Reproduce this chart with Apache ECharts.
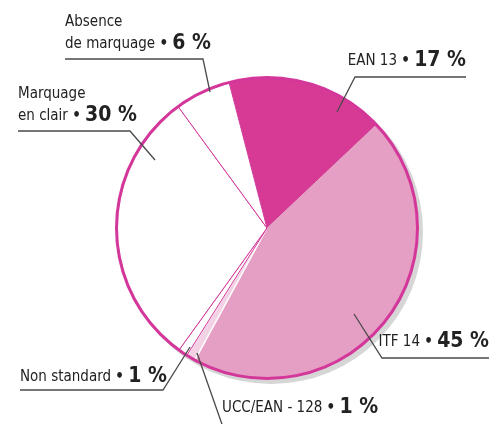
<!DOCTYPE html>
<html>
<head>
<meta charset="utf-8">
<script src="https://cdn.jsdelivr.net/npm/echarts@6/dist/echarts.min.js"></script>
<style>
  html, body { margin: 0; padding: 0; background: #fff; }
  #chart { width: 494px; height: 424px; }
</style>
</head>
<body>
<div id="chart"></div>
<script>
// slices, clockwise from the top-left edge of EAN 13
var categories = ['EAN 13', 'ITF 14', 'UCC/EAN - 128', 'Non standard', 'Marquage\nen clair', 'Absence\nde marquage'];
var shares = [17, 45, 1, 1, 30, 6];
var sliceColors = ['#d63a94', '#e59ec4', '#f3d2e5', '#ffffff', '#ffffff', '#ffffff'];

var magenta = '#d4379a';
var font = "'DejaVu Sans Condensed', sans-serif";

// where each label sits and how its leader runs (layout only)
var labelSpots = [
    { x: 466, y: 72, align: 'right', line: [[337, 112], [355, 77], [466, 77]] },
    { x: 489, y: 353, align: 'right', line: [[354, 314], [382, 358], [489, 358]] },
    { x: 222, y: 419, align: 'left', line: [[197, 353], [224, 430], [224, 430]] },
    { x: 20, y: 388, align: 'left', line: [[190, 347], [163, 390], [20, 390]] },
    { x: 18, y: 127, align: 'left', line: [[155, 160], [130, 131], [18, 131]] },
    { x: 65, y: 55, align: 'left', line: [[210, 92], [203, 59], [65, 59]] }
];

var chart = echarts.init(document.getElementById('chart'));

var pieData = categories.map(function (name, i) {
    var white = sliceColors[i] === '#ffffff';
    return {
        name: name,
        value: shares[i],
        itemStyle: {
            color: sliceColors[i],
            borderColor: white ? magenta : (i === 2 ? '#ffffff' : sliceColors[i]),
            borderWidth: white ? 1 : (i === 2 ? 1.5 : 0)
        }
    };
});

// same slices again, see-through, only to carry labels above the disc
var labelData = categories.map(function (name, i) {
    return { name: name, value: shares[i] };
});

var option = {
    animation: false,
    series: [{
        // soft grey shadow behind the disc
        type: 'pie',
        silent: true,
        center: [271, 232],
        radius: 152,
        label: { show: false },
        itemStyle: { color: '#d6d6d6' },
        data: [{ value: 1 }],
        z: 1
    }, {
        type: 'pie',
        silent: true,
        center: [267, 228],
        radius: 150,
        startAngle: 104.6,
        clockwise: true,
        z: 2,
        data: pieData,
        label: { show: false },
        labelLine: { show: false }
    }, {
        // magenta rim
        type: 'pie',
        silent: true,
        center: [267, 228],
        radius: [149, 152],
        label: { show: false },
        itemStyle: { color: magenta },
        data: [{ value: 1 }],
        z: 3
    }, {
        type: 'pie',
        silent: true,
        center: [267, 228],
        radius: 150,
        startAngle: 104.6,
        clockwise: true,
        z: 4,
        data: labelData,
        itemStyle: { color: 'rgba(0,0,0,0)', borderWidth: 0 },
        label: {
            show: true,
            position: 'outside',
            overflow: 'none',
            fontFamily: font,
            formatter: function (p) {
                var lines = p.name.split('\n');
                var last = lines.pop();
                var head = lines.map(function (l) { return '{n|' + l + '}'; });
                head.push('{n|' + last + ' }{d|•}{n| }{v|' + p.value + ' %}');
                return head.join('\n');
            },
            rich: {
                n: { fontFamily: font, fontSize: 15, color: '#222', lineHeight: 21 },
                d: { fontFamily: font, fontSize: 15, fontWeight: 'bold', color: '#222', lineHeight: 21 },
                v: { fontFamily: font, fontSize: 21, fontWeight: 'bold', color: '#222', lineHeight: 22 }
            }
        },
        labelLine: {
            show: true,
            lineStyle: { color: '#4a4a4a', width: 1.3 }
        },
        labelLayout: function (params) {
            var s = labelSpots[params.dataIndex];
            return {
                x: s.x,
                y: s.y,
                align: s.align,
                verticalAlign: 'bottom',
                labelLinePoints: s.line
            };
        }
    }]
};

chart.setOption(option);
</script>
</body>
</html>
